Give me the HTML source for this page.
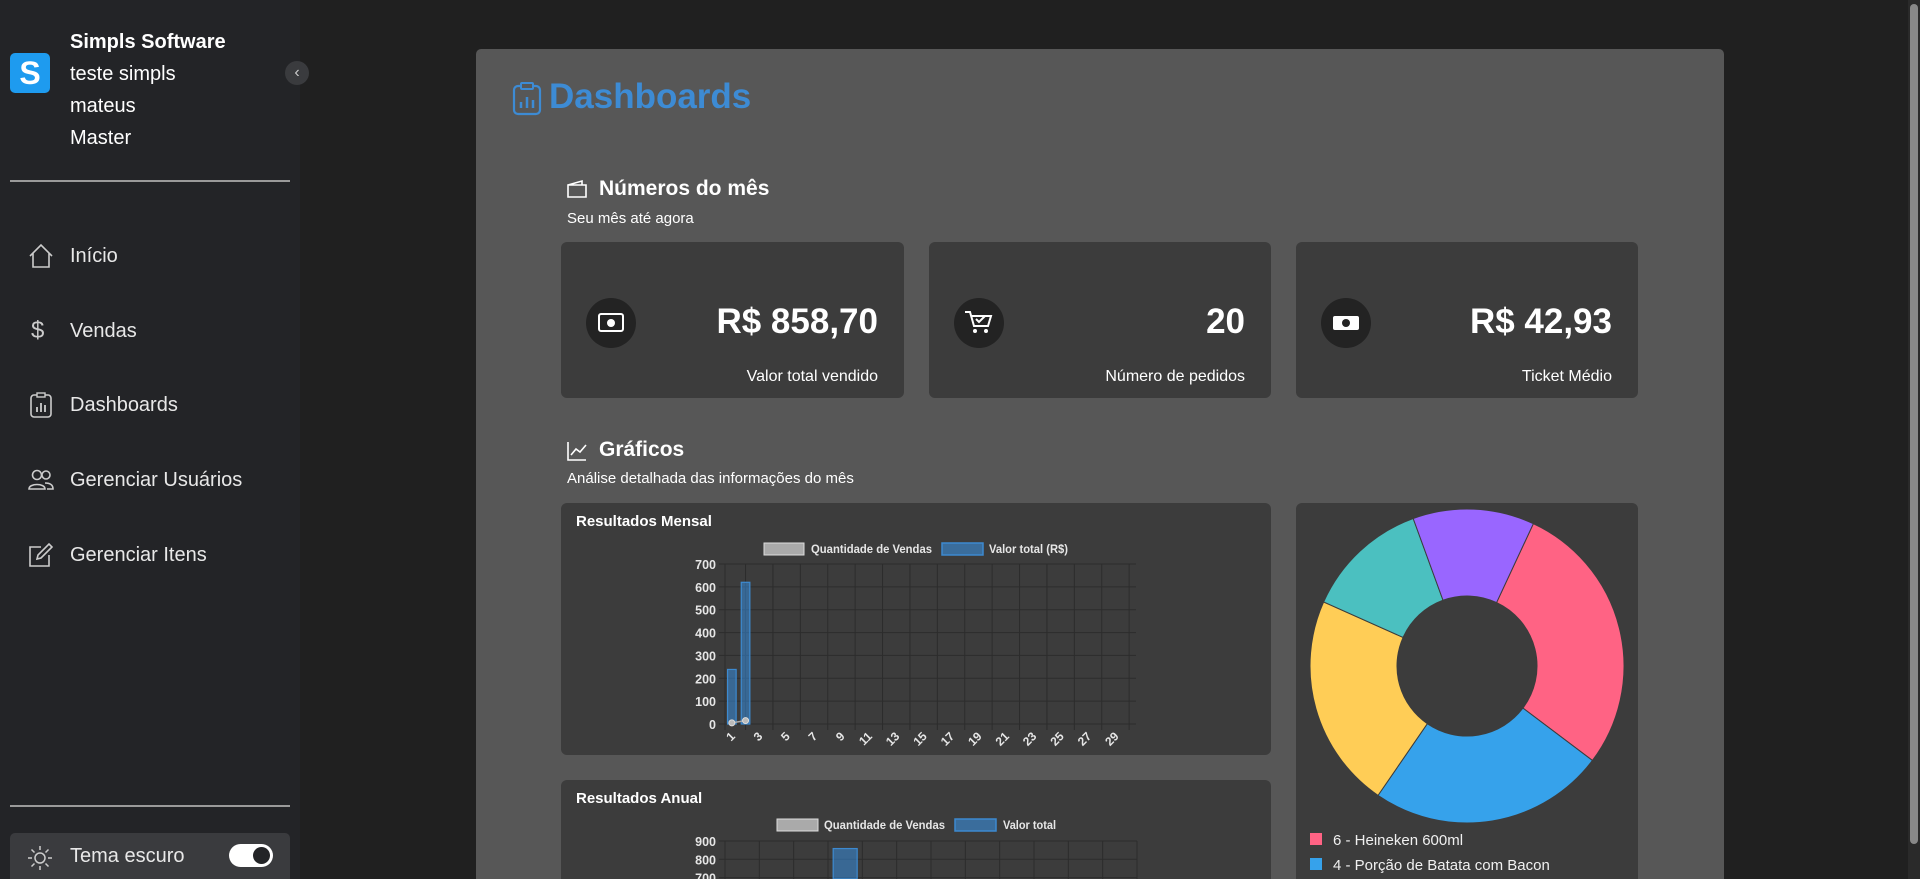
<!DOCTYPE html>
<html style="width:1920px;height:879px;overflow:hidden"><head><meta charset="utf-8">
<style>
*{box-sizing:border-box;margin:0;padding:0}
body{width:1920px;height:879px;overflow:hidden;background:#202020;font-family:"Liberation Sans",sans-serif;color:#fff;position:relative}
.abs{position:absolute}
#sidebar{left:0;top:0;width:300px;height:879px;background:#232427}
.side-t{position:absolute;left:70px;font-size:20px;font-weight:bold;color:#fff}
.nav{position:absolute;left:0;width:300px;height:50px;display:flex;align-items:center}
.nav span{position:absolute;left:70px;font-size:20px;color:#e8e8e8}
.nav svg{position:absolute;left:27px}
#panel{left:476px;top:49px;width:1248px;height:830px;background:#575757;border-radius:5px 5px 0 0;overflow:hidden}
.card{position:absolute;background:#3c3c3c;border-radius:6px}
.val{position:absolute;right:26px;top:60px;font-size:35px;font-weight:bold;line-height:40px}
.lab{position:absolute;right:26px;top:126px;font-size:16px}
.ic{position:absolute;left:25px;top:56px;width:50px;height:50px;border-radius:50%;background:#232323}
.ttl{font-size:15px;font-weight:bold;position:absolute;left:15px;top:10px}
</style></head><body>
<div id="sidebar" class="abs">
 <div class="abs" style="left:10px;top:53px;width:40px;height:40px;background:#1e9bef;border-radius:5px;font-size:32px;font-weight:bold;text-align:center;line-height:40px">S</div>
 <div class="side-t" style="top:31px">Simpls Software</div>
 <div class="side-t" style="top:63px;font-weight:normal">teste simpls</div>
 <div class="side-t" style="top:95px;font-weight:normal">mateus</div>
 <div class="side-t" style="top:127px;font-weight:normal">Master</div>
 <div class="abs" style="left:285px;top:61px;width:24px;height:24px;border-radius:50%;background:#3a3b3e;color:#ccc;font-size:16px;text-align:center;line-height:23px">‹</div>
 <div class="abs" style="left:10px;top:180px;width:280px;height:2px;background:#9a9a9a"></div>
 <div class="nav" style="top:231px"><svg width="28" height="28" viewBox="0 0 28 28"><path d="M3 14 L14 3 L25 14 M6 11 V25 H22 V11" fill="none" stroke="#ccc" stroke-width="1.6"/></svg><span>Início</span></div>
 <div class="nav" style="top:306px"><span style="left:31px;font-size:24px;color:#ccc">$</span><span>Vendas</span></div>
 <div class="nav" style="top:380px"><svg width="28" height="28" viewBox="0 0 28 28"><rect x="4" y="4" width="20" height="22" rx="3" fill="none" stroke="#ccc" stroke-width="1.6"/><rect x="10" y="2" width="8" height="4" fill="#232427" stroke="#ccc" stroke-width="1.4"/><path d="M10 21V16M14 21V12M18 21V14" stroke="#ccc" stroke-width="1.8"/></svg><span>Dashboards</span></div>
 <div class="nav" style="top:455px"><svg width="28" height="28" viewBox="0 0 28 28"><circle cx="10" cy="9" r="4.5" fill="none" stroke="#ccc" stroke-width="1.6"/><circle cx="19" cy="9" r="4" fill="none" stroke="#ccc" stroke-width="1.6"/><path d="M2 23c0-6 16-6 16 0zM18 17c5 0 8 2 8 6h-6" fill="none" stroke="#ccc" stroke-width="1.6"/></svg><span>Gerenciar Usuários</span></div>
 <div class="nav" style="top:530px"><svg width="28" height="28" viewBox="0 0 28 28"><path d="M22 14V25H3V6H14" fill="none" stroke="#ccc" stroke-width="1.6"/><path d="M10 18l1-4L22 3l3 3L14 17z" fill="none" stroke="#ccc" stroke-width="1.6"/></svg><span>Gerenciar Itens</span></div>
 <div class="abs" style="left:10px;top:805px;width:280px;height:2px;background:#9a9a9a"></div>
 <div class="abs" style="left:10px;top:833px;width:280px;height:46px;background:#3a3b3e;border-radius:5px 5px 0 0">
  <svg class="abs" style="left:17px;top:12px" width="26" height="26" viewBox="0 0 26 26"><circle cx="13" cy="13" r="5" fill="none" stroke="#ccc" stroke-width="1.5"/><path d="M13 1v4M13 21v4M1 13h4M21 13h4M4.5 4.5l3 3M18.5 18.5l3 3M4.5 21.5l3-3M18.5 7.5l3-3" stroke="#ccc" stroke-width="1.5"/></svg>
  <span class="abs" style="left:60px;top:12px;font-size:20px;color:#e8e8e8">Tema escuro</span>
  <div class="abs" style="left:219px;top:11px;width:44px;height:23px;border-radius:12px;background:#fff"><div style="position:absolute;right:3px;top:3px;width:17px;height:17px;border-radius:50%;background:#232427"></div></div>
 </div>
</div>
<div class="abs" style="left:1908px;top:0;width:12px;height:879px;background:#2a2a2a"><div style="margin:4px 2px;height:840px;background:#888;border-radius:4px"></div></div>
<div id="panel" class="abs">
 <svg class="abs" style="left:36px;top:33px" width="30" height="34" viewBox="0 0 30 34"><rect x="2" y="4" width="26" height="28" rx="4" fill="none" stroke="#3d8bd4" stroke-width="2.2"/><rect x="9" y="1" width="12" height="6" rx="1" fill="#575757" stroke="#3d8bd4" stroke-width="2"/><path d="M9 26v-6M15 26v-11M21 26v-8" stroke="#3d8bd4" stroke-width="2.5"/></svg>
 <div class="abs" style="left:73px;top:28px;font-size:35px;font-weight:bold;color:#3d8bd4">Dashboards</div>
 <svg class="abs" style="left:90px;top:130px" width="22" height="20" viewBox="0 0 22 20"><path d="M2 6h18v12H2zM2 6l14-4v4" fill="none" stroke="#fff" stroke-width="1.6"/></svg>
 <div class="abs" style="left:123px;top:128px;font-size:21px;font-weight:bold">Números do mês</div>
 <div class="abs" style="left:91px;top:161px;font-size:15px">Seu mês até agora</div>
 <div class="card" style="left:85px;top:193px;width:343px;height:156px"><div class="ic"><svg width="50" height="50"><rect x="13" y="16" width="24" height="17" rx="2" fill="none" stroke="#fff" stroke-width="2"/><circle cx="25" cy="25" r="4" fill="#fff"/></svg></div><div class="val">R$ 858,70</div><div class="lab">Valor total vendido</div></div>
 <div class="card" style="left:453px;top:193px;width:342px;height:156px"><div class="ic"><svg width="50" height="50"><path d="M11 14h5l4 14h14l3-10H18" fill="none" stroke="#fff" stroke-width="2"/><circle cx="21" cy="33" r="2" fill="#fff"/><circle cx="32" cy="33" r="2" fill="#fff"/><path d="M22 21l3 3 6-6" fill="none" stroke="#fff" stroke-width="2"/></svg></div><div class="val">20</div><div class="lab">Número de pedidos</div></div>
 <div class="card" style="left:820px;top:193px;width:342px;height:156px"><div class="ic"><svg width="50" height="50"><rect x="12" y="18" width="26" height="14" rx="2" fill="#fff"/><circle cx="25" cy="25" r="4" fill="#232323"/></svg></div><div class="val">R$ 42,93</div><div class="lab">Ticket Médio</div></div>
 <svg class="abs" style="left:90px;top:391px" width="22" height="22" viewBox="0 0 22 22"><path d="M2 2v18h18M5 15l5-6 4 3 6-7" fill="none" stroke="#fff" stroke-width="1.6"/></svg>
 <div class="abs" style="left:123px;top:389px;font-size:21px;font-weight:bold">Gráficos</div>
 <div class="abs" style="left:91px;top:421px;font-size:15px">Análise detalhada das informações do mês</div>
 <div class="card" style="left:85px;top:454px;width:710px;height:252px"><div class="ttl">Resultados Mensal</div></div>
 <div class="card" style="left:85px;top:731px;width:710px;height:99px;border-radius:6px 6px 0 0"><div class="ttl">Resultados Anual</div></div>
 <div class="card" style="left:820px;top:454px;width:342px;height:376px;border-radius:6px 6px 0 0"></div>
</div>
<svg id="charts" class="abs" style="left:0;top:0" width="1920" height="879"></svg>
<script>
const days = Array.from({length:30},(_,i)=>String(i+1));
const monthlyValor = [238.7,620,0,0,0,0,0,0,0,0,0,0,0,0,0,0,0,0,0,0,0,0,0,0,0,0,0,0,0,0];
const monthlyQtd = [5,15];
const monthlyTicks = [0,100,200,300,400,500,600,700];
const months = ["1","2","3","4","5","6","7","8","9","10","11","12"];
const annualValor = [0,0,0,858.7,0,0,0,0,0,0,0,0];
const annualTicks = [700,800,900];
const pieLabels = ["6 - Heineken 600ml","4 - Porção de Batata com Bacon","Item 3","Item 4","Item 5"];
const pieValues = [6,5.15,4.68,2.7,2.65];
const pieColors = ["#ff6384","#36a2eb","#ffcd56","#4bc0c0","#9966ff"];
const pieRotationDeg = 25;

const NS="http://www.w3.org/2000/svg", root=document.getElementById('charts');
function mk(t,a,p){const e=document.createElementNS(NS,t);for(const k in a)e.setAttribute(k,a[k]);(p||root).appendChild(e);return e;}
function txt(x,y,s,a){const e=mk('text',Object.assign({x:x,y:y,fill:'#e6e6e6','font-size':12,'font-weight':'bold','font-family':'Liberation Sans, sans-serif'},a||{}));e.textContent=s;return e;}

// monthly
(function(){
 const L=725,R=1136,T=564,B=724,max=700;
 const bw=(R-L)/days.length;
 const y=v=>B-v/max*(B-T), x=i=>L+bw*(i+0.5);
 const g=mk('g',{});
 
 
 monthlyTicks.forEach(t=>{mk('line',{x1:L-6,x2:R,y1:y(t),y2:y(t),stroke:'#2c2c2c'},g);g.appendChild(txt(L-9,y(t)+5,String(t),{'text-anchor':'end','font-size':12.5}));});
 mk('line',{x1:L,x2:L,y1:T,y2:B+6,stroke:'#2c2c2c'},g);
 days.forEach((d,i)=>{ if(i%2===1) mk('line',{x1:x(i),x2:x(i),y1:T,y2:B+6,stroke:'#2c2c2c'},g);
   if(i%2===0){g.appendChild(txt(x(i)+4,B+13,d,{'text-anchor':'end',transform:`rotate(-45 ${x(i)+4} ${B+13})`,'font-size':12}));} });
 monthlyValor.forEach((v,i)=>{ if(v<=0)return; const r=mk('rect',{x:x(i)-4.3,y:y(v),width:8.6,height:B-y(v),fill:'rgba(54,140,220,0.55)',stroke:'#3d8ad0','stroke-width':1.2},g);
    });
 const pts=monthlyQtd.map((v,i)=>x(i)+','+y(v)).join(' ');
 mk('polyline',{points:pts,fill:'none',stroke:'#aaa','stroke-width':1.5},g);
 monthlyQtd.forEach((v,i)=>{const c=mk('circle',{cx:x(i),cy:y(v),r:3,fill:'#bbb',stroke:'#ddd'},g);
    });
 mk('rect',{x:764,y:543,width:40,height:12,fill:'#aaa',stroke:'#ddd'},g);
 g.appendChild(txt(811,553,'Quantidade de Vendas',{'font-size':12,textLength:121,lengthAdjust:'spacingAndGlyphs'}));
 mk('rect',{x:942,y:543,width:41,height:12,fill:'#3a6d9c',stroke:'#3d8ad0','stroke-width':1.5},g);
 g.appendChild(txt(989,553,'Valor total (R$)',{'font-size':12,textLength:79,lengthAdjust:'spacingAndGlyphs'}));
})();

// annual
(function(){
 const L=725,R=1137,T=841,max=900,per=18.3/100,BOT=879;
 const bw=(R-L)/months.length;
 const y=v=>T+(max-v)*per, x=i=>L+bw*(i+0.5);
 const g=mk('g',{});
 
 
 annualTicks.forEach(t=>{mk('line',{x1:L-6,x2:R,y1:y(t),y2:y(t),stroke:'#2c2c2c'},g);g.appendChild(txt(L-9,y(t)+5,String(t),{'text-anchor':'end','font-size':12.5}));});
 for(let i=0;i<=months.length;i++) mk('line',{x1:L+bw*i,x2:L+bw*i,y1:T,y2:BOT,stroke:'#2c2c2c'},g);
 annualValor.forEach((v,i)=>{ if(v<=0)return; const r=mk('rect',{x:x(i)-12,y:y(v),width:24,height:BOT-y(v),fill:'rgba(54,140,220,0.55)',stroke:'#3d8ad0','stroke-width':1.2},g);
    });
 mk('rect',{x:777,y:819,width:41,height:12,fill:'#aaa',stroke:'#ddd'},g);
 g.appendChild(txt(824,829,'Quantidade de Vendas',{'font-size':12,textLength:121,lengthAdjust:'spacingAndGlyphs'}));
 mk('rect',{x:955,y:819,width:41,height:12,fill:'#3a6d9c',stroke:'#3d8ad0','stroke-width':1.5},g);
 g.appendChild(txt(1003,829,'Valor total',{'font-size':12,textLength:53,lengthAdjust:'spacingAndGlyphs'}));
})();

// doughnut
(function(){
 const cx=1467,cy=666,ro=157,ri=70;
 const tot=pieValues.reduce((a,b)=>a+b,0);
 let a=pieRotationDeg*Math.PI/180;
 const P=(r,t)=>[cx+r*Math.sin(t),cy-r*Math.cos(t)];
 const g=mk('g',{});
 
 
 pieValues.forEach((v,i)=>{const s=a,e=a+v/tot*2*Math.PI;a=e;const lg=(e-s)>Math.PI?1:0;
  const p1=P(ro,s),p2=P(ro,e),p3=P(ri,e),p4=P(ri,s);
  const p=mk('path',{d:`M${p1}A${ro},${ro} 0 ${lg} 1 ${p2}L${p3}A${ri},${ri} 0 ${lg} 0 ${p4}Z`,fill:pieColors[i],stroke:'#3c3c3c','stroke-width':1},g);
   });
 pieLabels.slice(0,2).forEach((l,i)=>{const yy=839+i*25;mk('rect',{x:1310,y:yy-6,width:12,height:12,fill:pieColors[i]},g);
  const t=txt(1333,yy+6,l,{'font-size':15,'font-weight':'normal',fill:'#f0f0f0'});
    g.appendChild(t);});
})();
</script>
</body></html>
